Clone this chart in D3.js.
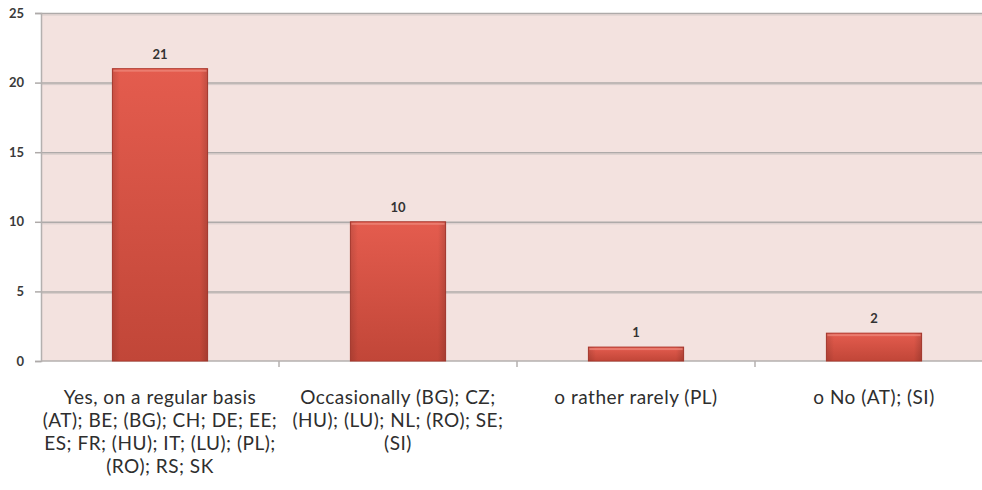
<!DOCTYPE html>
<html>
<head>
<meta charset="utf-8">
<script src="https://cdn.jsdelivr.net/npm/d3@7"></script>
<style>
  html, body { margin: 0; padding: 0; background: #ffffff; }
  svg { display: block; }
  text { font-family: Lato, "Open Sans", sans-serif; }
</style>
</head>
<body>
<svg id="chart" width="982" height="490"></svg>
<script>
// Survey answers and the number of countries giving each one
const categories = [
  "Yes, on a regular basis (AT); BE; (BG); CH; DE; EE; ES; FR; (HU); IT; (LU); (PL); (RO); RS; SK",
  "Occasionally (BG); CZ; (HU); (LU); NL; (RO); SE; (SI)",
  "o rather rarely (PL)",
  "o No (AT); (SI)"
];
const categoryLines = [
  ["Yes, on a regular basis", "(AT); BE; (BG); CH; DE; EE;", "ES; FR; (HU); IT; (LU); (PL);", "(RO); RS; SK"],
  ["Occasionally (BG); CZ;", "(HU); (LU); NL; (RO); SE;", "(SI)"],
  ["o rather rarely (PL)"],
  ["o No (AT); (SI)"]
];
const counts = [21, 10, 1, 2];
const yTicks = [0, 5, 10, 15, 20, 25];

const svg = d3.select("#chart");
const margin = { left: 41, top: 13, right: -11, bottom: 129 };
const W = 982, H = 490;
const plotW = W - margin.left - margin.right;
const plotH = H - margin.top - margin.bottom;

const x = d3.scaleBand().domain(categories).range([0, plotW]).paddingInner(0.6).paddingOuter(0.3);
const y = d3.scaleLinear().domain([0, 25]).range([plotH, 0]);
const step = x.step();

const defs = svg.append("defs");
const grad = defs.append("linearGradient").attr("id", "barFill")
  .attr("x1", 0).attr("y1", 0).attr("x2", 0).attr("y2", 1);
grad.append("stop").attr("offset", "0%").attr("stop-color", "#e45c4e");
grad.append("stop").attr("offset", "100%").attr("stop-color", "#c14638");
const side = defs.append("linearGradient").attr("id", "barSide")
  .attr("x1", 0).attr("y1", 0).attr("x2", 1).attr("y2", 0);
side.append("stop").attr("offset", "0%").attr("stop-color", "#000").attr("stop-opacity", 0.12);
side.append("stop").attr("offset", "8%").attr("stop-color", "#000").attr("stop-opacity", 0);
side.append("stop").attr("offset", "92%").attr("stop-color", "#000").attr("stop-opacity", 0);
side.append("stop").attr("offset", "100%").attr("stop-color", "#000").attr("stop-opacity", 0.15);

const g = svg.append("g").attr("transform", `translate(${margin.left},${margin.top})`);

// plot background
g.append("rect").attr("x", 0).attr("y", 0).attr("width", plotW).attr("height", plotH)
  .attr("fill", "#f3e2df");

// horizontal gridlines with a soft shadow underneath
const gridVals = yTicks.filter(d => d > 0);
g.append("g").selectAll("line").data(gridVals).join("line")
  .attr("x1", 0).attr("x2", plotW)
  .attr("y1", d => y(d) + 0.5).attr("y2", d => y(d) + 0.5)
  .attr("stroke", "#aeaaa9").attr("stroke-width", 1.5);
g.append("g").selectAll("line").data(gridVals).join("line")
  .attr("x1", 0).attr("x2", plotW)
  .attr("y1", d => y(d) + 2).attr("y2", d => y(d) + 2)
  .attr("stroke", "#d6cbc9").attr("stroke-width", 1);

// y axis
const yAxis = g.append("g")
  .call(d3.axisLeft(y).tickValues(yTicks).tickSize(6).tickPadding(11));
yAxis.select(".domain").attr("stroke", "#b4b0af").attr("stroke-width", 1.5);
yAxis.selectAll(".tick line").attr("stroke", "#aeaaa9").attr("stroke-width", 1.5);
yAxis.selectAll(".tick text").attr("fill", "#3a3a3a").attr("font-size", 13).attr("font-weight", 700);

// x axis baseline and category boundary ticks
g.append("line").attr("x1", 0).attr("x2", plotW).attr("y1", plotH).attr("y2", plotH)
  .attr("stroke", "#b4b0af").attr("stroke-width", 1.5);
g.append("g").selectAll("line").data(categories).join("line")
  .attr("x1", d => x(d) - (step - x.bandwidth()) / 2 + step)
  .attr("x2", d => x(d) - (step - x.bandwidth()) / 2 + step)
  .attr("y1", plotH).attr("y2", plotH + 6)
  .attr("stroke", "#b4b0af").attr("stroke-width", 1.5);

// bars
const bars = g.append("g").selectAll("g").data(categories).join("g");
bars.append("rect")
  .attr("x", d => x(d)).attr("width", x.bandwidth())
  .attr("y", (d, i) => y(counts[i])).attr("height", (d, i) => plotH - y(counts[i]))
  .attr("fill", "url(#barFill)").attr("stroke", "#b03a2f").attr("stroke-width", 1);
bars.append("rect")
  .attr("x", d => x(d)).attr("width", x.bandwidth())
  .attr("y", (d, i) => y(counts[i])).attr("height", (d, i) => plotH - y(counts[i]))
  .attr("fill", "url(#barSide)");
bars.append("rect")
  .attr("x", d => x(d) + 1).attr("width", x.bandwidth() - 2)
  .attr("y", (d, i) => y(counts[i]) + 1).attr("height", 2)
  .attr("fill", "#ee8a7e").attr("opacity", 0.7);

// value labels
g.append("g").selectAll("text").data(categories).join("text")
  .attr("x", d => x(d) + x.bandwidth() / 2)
  .attr("y", (d, i) => y(counts[i]) - 10)
  .attr("text-anchor", "middle")
  .attr("font-size", 13).attr("font-weight", 700).attr("fill", "#333")
  .text((d, i) => counts[i]);

// category labels
const labels = g.append("g").selectAll("text").data(categories).join("text")
  .attr("text-anchor", "middle")
  .attr("font-size", 19).attr("font-weight", 400).attr("fill", "#2e2e2e")
  .attr("letter-spacing", 0.5)
  .attr("transform", d => `translate(${x(d) + x.bandwidth() / 2},${plotH + 43})`);
labels.selectAll("tspan").data((d, i) => categoryLines[i]).join("tspan")
  .attr("x", 0).attr("dy", (d, i) => i === 0 ? 0 : 23)
  .text(d => d);
</script>
</body>
</html>
